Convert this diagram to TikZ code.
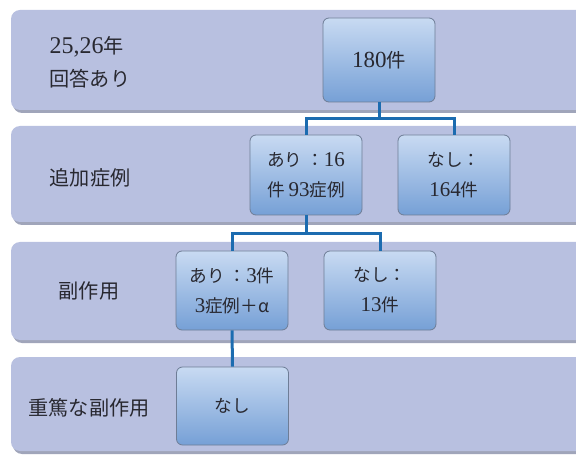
\documentclass[tikz,border=0pt]{standalone}
\usepackage{fontspec}
\setmainfont{Liberation Serif}
\newfontfamily\jp{Noto Sans CJK JP}[Scale=0.84]
\definecolor{bandfill}{RGB}{184,192,224}
\definecolor{bandshadow}{RGB}{160,165,186}
\definecolor{boxtop}{RGB}{200,218,242}
\definecolor{boxbot}{RGB}{118,160,214}
\definecolor{boxline}{RGB}{110,125,150}
\definecolor{connc}{RGB}{28,108,176}
\definecolor{txt}{RGB}{40,40,48}
\begin{document}
\begin{tikzpicture}[x=1pt,y=-1pt,
  band/.style={fill=bandfill, rounded corners=9pt},
  bandsh/.style={fill=bandshadow, rounded corners=9pt},
  stepbox/.style={draw=boxline, line width=0.8pt, rounded corners=6pt,
    top color=boxtop, bottom color=boxbot, minimum width=112pt,
    minimum height=82pt, align=center, text=txt,
    font=\fontsize{21}{30}\selectfont},
  lbl/.style={text=txt, font=\fontsize{24}{33}\selectfont, align=left},
  conn/.style={draw=connc, line width=3pt}]
\useasboundingbox (0,0) rectangle (576,457);
\fill[white] (0,0) rectangle (576,457);
% bands
\foreach \t/\b in {10/110, 126/222, 242/340, 357/451}{
  \fill[bandsh] (13,\t+3) rectangle (600,\b+3);
  \fill[band] (11,\t) rectangle (600,\b);
}
% labels
\node[lbl, anchor=west] (l1) at (46,62) {25,26{\jp 年}\\{\jp 回答あり}};
\node[lbl] (l2) at (90,178) {{\jp 追加症例}};
\node[lbl] (l3) at (89,291) {{\jp 副作用}};
\node[lbl] (l4) at (89,408) {{\jp 重篤な副作用}};
% boxes
\node[stepbox, minimum height=84pt, font=\fontsize{23}{30}\selectfont] (n180) at (379,60) {180{\jp 件}};
\node[stepbox, minimum height=80pt] (a16) at (306,175) {{\jp あり ：}16\\{\jp 件 }93{\jp 症例}};
\node[stepbox, minimum height=80pt] (n164) at (454,175) {{\jp なし：}\\164{\jp 件}};
\node[stepbox, minimum height=79pt] (a3) at (232,290.5) {{\jp あり ：}3{\jp 件}\\3{\jp 症例＋α}};
\node[stepbox, minimum height=79pt] (n13) at (380,290.5) {{\jp なし：}\\13{\jp 件}};
\node[stepbox, minimum height=78pt] (nn) at (232.5,406) {{\jp なし}};
% connectors
\draw[conn] (n180.south) -- ++(0,16) coordinate (j1);
\draw[conn] (a16.north) |- (j1) -| (n164.north);
\draw[conn] (a16.south) -- ++(0,18) coordinate (j2);
\draw[conn] (a3.north) |- (j2) -| (n13.north);
\draw[conn] (a3.south) -- (nn.north);
\end{tikzpicture}
\end{document}
